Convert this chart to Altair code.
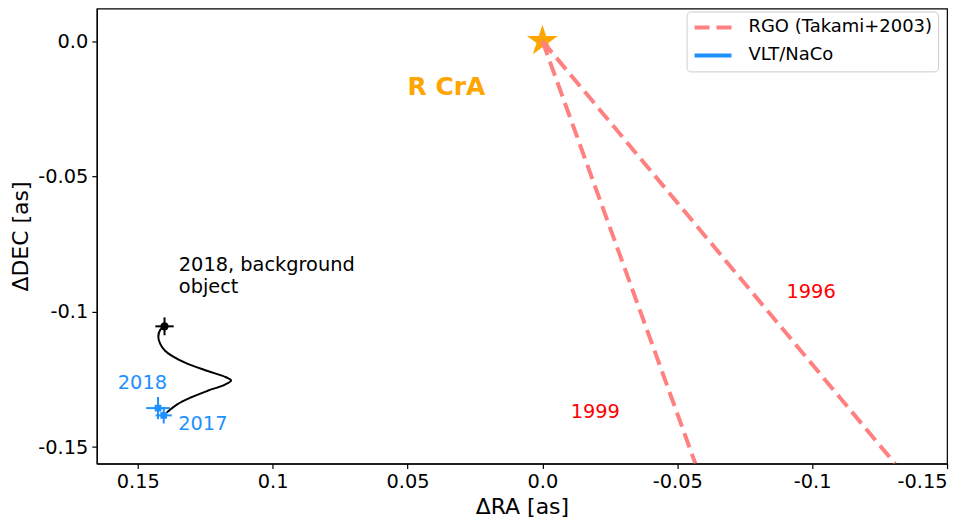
import math
import altair as alt
import pandas as pd

RGO = "RGO (Takami+2003)"
VLT = "VLT/NaCo"
FONT = "DejaVu Sans"

# ---- data ----
star_x = [0.0]
star_y = [0.0]

rgo_year = ["1999", "1999", "1996", "1996"]
rgo_x = [0.0, -0.0567, 0.0, -0.1307]
rgo_y = [0.0, -0.1561, 0.0, -0.1561]

vlt_epoch = ["2018", "2017"]
vlt_x = [0.1425, 0.1404]
vlt_y = [-0.1356, -0.1383]
vlt_ex = [0.0044, 0.0030]
vlt_ey = [0.0041, 0.0030]

bg_x = [0.1401]
bg_y = [-0.1054]
bg_ex = [0.0034]
bg_ey = [0.0033]

track_x = [0.1401, 0.1417, 0.1424, 0.1417, 0.1399, 0.1367, 0.1317, 0.1241,
           0.1173, 0.1154, 0.1179, 0.1241, 0.1304, 0.1354, 0.1386, 0.1404]
track_y = [-0.1054, -0.1067, -0.1092, -0.1119, -0.1144, -0.1167, -0.1192, -0.1219,
           -0.1242, -0.1254, -0.1270, -0.1292, -0.1317, -0.1342, -0.1367, -0.1383]

x_ticks = [0.15, 0.1, 0.05, 0.0, -0.05, -0.1, -0.15]
y_ticks = [0.0, -0.05, -0.1, -0.15]

# annotations
note_text = ["2018, background\nobject"]
note_x = [0.1348]
note_y = [-0.0850]

name_text = ["R CrA"]
name_x = [0.0356]
name_y = [-0.0171]

year_text = ["1996", "1999"]
year_x = [-0.0996, -0.0196]
year_y = [-0.0927, -0.1372]

ep_text = ["2018", "2017"]
ep_x = [0.1483, 0.1259]
ep_y = [-0.1265, -0.1416]

# ---- tables ----
star_df = pd.DataFrame({"x": star_x, "y": star_y})
rgo_df = pd.DataFrame({"x": rgo_x, "y": rgo_y, "year": rgo_year,
                       "order": [0, 1, 0, 1], "series": RGO})
vlt_df = pd.DataFrame({"x": vlt_x, "y": vlt_y, "epoch": vlt_epoch, "series": VLT})
vlt_df["xlo"] = vlt_df["x"] - pd.Series(vlt_ex)
vlt_df["xhi"] = vlt_df["x"] + pd.Series(vlt_ex)
vlt_df["ylo"] = vlt_df["y"] - pd.Series(vlt_ey)
vlt_df["yhi"] = vlt_df["y"] + pd.Series(vlt_ey)
bg_df = pd.DataFrame({"x": bg_x, "y": bg_y})
bg_df["xlo"] = bg_df["x"] - pd.Series(bg_ex)
bg_df["xhi"] = bg_df["x"] + pd.Series(bg_ex)
bg_df["ylo"] = bg_df["y"] - pd.Series(bg_ey)
bg_df["yhi"] = bg_df["y"] + pd.Series(bg_ey)
track_df = pd.DataFrame({"x": track_x, "y": track_y, "order": list(range(len(track_x)))})

# ---- scales / axes ----
xs = alt.Scale(domain=[0.1652, -0.15], nice=False, zero=False)
ys = alt.Scale(domain=[-0.1561, 0.0120], nice=False, zero=False)
lab = "datum.value == 0 ? '0.0' : toString(datum.value)"
xaxis = alt.Axis(values=x_ticks, labelExpr=lab, title="ΔRA [as]", titlePadding=6)
yaxis = alt.Axis(values=y_ticks, labelExpr=lab, title="ΔDEC [as]", titlePadding=5)


def X(f):
    return alt.X(f, type="quantitative", scale=xs, axis=xaxis)


def Y(f):
    return alt.Y(f, type="quantitative", scale=ys, axis=yaxis)


leg = alt.Legend(title=None, orient="none", legendX=591, legendY=3, symbolType="stroke")
color = alt.Color("series:N",
                  scale=alt.Scale(domain=[RGO, VLT], range=["#FF8080", "#1E90FF"]),
                  legend=leg)
dash = alt.StrokeDash("series:N",
                      scale=alt.Scale(domain=[RGO, VLT], range=[[15, 7], [1, 0]]),
                      legend=leg)

# star path (5-point)
pts = []
for k in range(10):
    r = 1.0 if k % 2 == 0 else 0.382
    a = math.radians(-90 + 36 * k)
    pts.append(f"{r*math.cos(a):.4f},{r*math.sin(a):.4f}")
star_path = "M" + " L".join(pts) + " Z"

star = alt.Chart(star_df).mark_point(shape=star_path, filled=True, color="#FFA500",
                                     size=1060, opacity=1).encode(x=X("x"), y=Y("y"))

rgo = alt.Chart(rgo_df).mark_line(strokeWidth=4, clip=True).encode(
    x=X("x"), y=Y("y"), detail="year:N", order="order:Q", color=color, strokeDash=dash)

track = alt.Chart(track_df).mark_line(color="black", strokeWidth=2,
                                      interpolate="catmull-rom").encode(
    x=X("x"), y=Y("y"), order="order:Q")

bg_h = alt.Chart(bg_df).mark_rule(color="black", strokeWidth=2).encode(
    x=X("xlo"), x2="xhi", y=Y("y"))
bg_v = alt.Chart(bg_df).mark_rule(color="black", strokeWidth=2).encode(
    x=X("x"), y=Y("ylo"), y2="yhi")
bg_p = alt.Chart(bg_df).mark_point(shape="circle", filled=True, color="black",
                                   size=70, opacity=1).encode(x=X("x"), y=Y("y"))

vlt_h = alt.Chart(vlt_df).mark_rule(strokeWidth=2).encode(
    x=X("xlo"), x2="xhi", y=Y("y"), color=color)
vlt_v = alt.Chart(vlt_df).mark_rule(strokeWidth=2).encode(
    x=X("x"), y=Y("ylo"), y2="yhi", color=color)
vlt_p = alt.Chart(vlt_df).mark_point(shape="square", filled=True, color="#1E90FF",
                                     size=45, opacity=1).encode(x=X("x"), y=Y("y"))

note = alt.Chart(pd.DataFrame({"x": note_x, "y": note_y, "t": note_text})).mark_text(
    align="left", baseline="alphabetic", font=FONT, fontSize=19.4, color="black",
    lineBreak="\n", lineHeight=22).encode(x=X("x"), y=Y("y"), text="t:N")

name = alt.Chart(pd.DataFrame({"x": name_x, "y": name_y, "t": name_text})).mark_text(
    align="center", baseline="middle", font=FONT, fontSize=25, fontWeight="bold",
    color="#FFA500").encode(x=X("x"), y=Y("y"), text="t:N")

years = alt.Chart(pd.DataFrame({"x": year_x, "y": year_y, "t": year_text})).mark_text(
    align="center", baseline="middle", font=FONT, fontSize=19.4, color="red").encode(
    x=X("x"), y=Y("y"), text="t:N")

eps = alt.Chart(pd.DataFrame({"x": ep_x, "y": ep_y, "t": ep_text})).mark_text(
    align="center", baseline="middle", font=FONT, fontSize=19.4, color="#1E90FF").encode(
    x=X("x"), y=Y("y"), text="t:N")

chart = alt.layer(star, rgo, track, bg_h, bg_v, bg_p, vlt_h, vlt_v, vlt_p,
                  note, name, years, eps).properties(
    width=852, height=456,
    padding={"left": 89, "top": 0, "right": 20, "bottom": 55},
    autosize=alt.AutoSizeParams(type="none"),
).configure_view(stroke="black", strokeWidth=1.2).configure_axis(
    labelFont=FONT, labelFontSize=19.4, labelColor="black", labelPadding=4,
    titleFont=FONT, titleFontSize=22, titleFontWeight="normal", titleColor="black",
    tickColor="black", tickSize=5, tickWidth=1.2, domainColor="black", domainWidth=1.2,
    grid=False,
).configure_legend(
    labelFont=FONT, labelFontSize=18, labelColor="black", padding=6, rowPadding=8,
    labelOffset=15, fillColor="white", strokeColor="#cccccc", cornerRadius=4,
    symbolSize=1369, symbolStrokeWidth=4, labelLimit=400, clipHeight=20,
)

chart.save("out.html", embed_options={"renderer": "svg", "actions": False})
